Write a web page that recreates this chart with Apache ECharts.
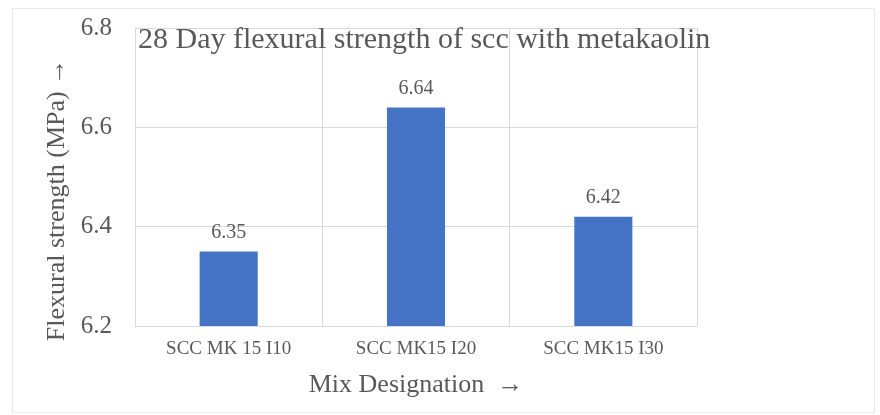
<!DOCTYPE html>
<html>
<head>
<meta charset="utf-8">
<script src="https://cdn.jsdelivr.net/npm/echarts@6/dist/echarts.min.js"></script>
<style>
  html, body { margin: 0; padding: 0; background: #ffffff; }
  #chart { width: 880px; height: 415px; }
</style>
</head>
<body>
<div id="chart"></div>
<script>
// Mix designations and their 28-day flexural strength (MPa)
const categories = ['SCC MK 15 I10', 'SCC MK15 I20', 'SCC MK15 I30'];
const strengths = [6.35, 6.64, 6.42];
const yTicks = [6.2, 6.4, 6.6, 6.8];

const titleText = '28 Day flexural strength of scc with metakaolin';
const xName = 'Mix Designation  \u2192';
const yName = 'Flexural strength (MPa) \u2192';

const serif = '"Liberation Serif", "DejaVu Serif", serif';
const textGray = '#595959';
const gridGray = '#d9d9d9';

const chart = echarts.init(document.getElementById('chart'));
chart.setOption({
  backgroundColor: '#ffffff',
  animation: false,
  title: {
    text: titleText,
    left: 133,
    top: 20,
    textStyle: { fontFamily: serif, fontSize: 30, fontWeight: 'normal', color: textGray }
  },
  graphic: [{
    type: 'rect',
    left: 10, top: 6,
    shape: { width: 862, height: 404 },
    style: { fill: 'none', stroke: '#e8e8e8', lineWidth: 1 },
    silent: true,
    z: -1
  }],
  grid: { left: 135, right: 183, top: 28, bottom: 89 },
  xAxis: {
    type: 'category',
    data: categories,
    name: xName,
    nameLocation: 'middle',
    nameGap: 46,
    nameTextStyle: { fontFamily: serif, fontSize: 26, color: textGray },
    axisLine: { show: true, lineStyle: { color: gridGray } },
    axisTick: { show: false },
    axisLabel: { fontFamily: serif, fontSize: 19, color: textGray, margin: 14 },
    splitLine: { show: true, interval: 0, lineStyle: { color: gridGray } }
  },
  yAxis: {
    type: 'value',
    min: yTicks[0],
    max: yTicks[yTicks.length - 1],
    interval: 0.2,
    name: yName,
    nameLocation: 'middle',
    nameGap: 60,
    nameTextStyle: { fontFamily: serif, fontSize: 26, color: textGray, padding: [0, 46, 0, 0] },
    axisLine: { show: false },
    axisTick: { show: false },
    axisLabel: {
      fontFamily: serif, fontSize: 25, color: textGray, margin: 23,
      formatter: v => v.toFixed(1)
    },
    splitLine: { show: true, lineStyle: { color: gridGray } }
  },
  series: [{
    type: 'bar',
    data: strengths,
    barWidth: '31%',
    itemStyle: { color: '#4472C4' },
    label: {
      show: true,
      position: 'top',
      distance: 9,
      fontFamily: serif,
      fontSize: 20,
      color: textGray,
      formatter: p => p.value.toFixed(2)
    }
  }]
});
</script>
</body>
</html>
